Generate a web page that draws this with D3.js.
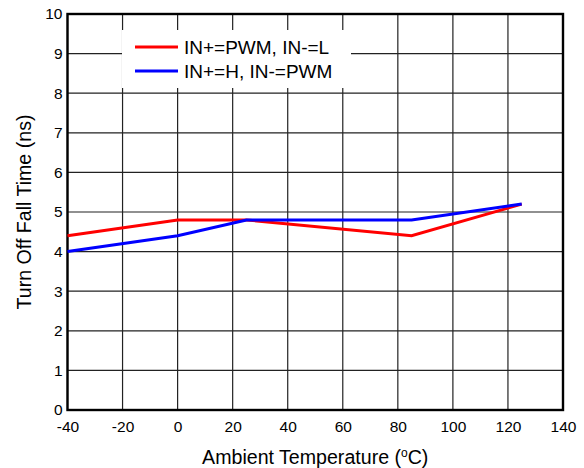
<!DOCTYPE html>
<html><head><meta charset="utf-8">
<script src="https://cdn.jsdelivr.net/npm/d3@7"></script>
<style>body{margin:0;background:#fff}svg{display:block;font-family:"Liberation Sans",Arial,sans-serif}</style>
</head><body><svg id="c" width="584" height="468"></svg>
<script>
const temps1 = [-40, 0, 25, 85, 125];
const redVals = [4.4, 4.8, 4.8, 4.4, 5.2];
const temps2 = [-40, 0, 25, 85, 125];
const blueVals = [4.0, 4.4, 4.8, 4.8, 5.2];
const xTicks = [-40, -20, 0, 20, 40, 60, 80, 100, 120, 140];
const yTicks = [0, 1, 2, 3, 4, 5, 6, 7, 8, 9, 10];
const seriesNames = ["IN+=PWM, IN-=L", "IN+=H, IN-=PWM"];
const seriesColors = ["#ff0000", "#0000ff"];

const svg = d3.select("#c");
const L = 67.5, R = 563, T = 14, B = 410;
const x = d3.scaleLinear().domain([-40, 140]).range([L, R]);
const y = d3.scaleLinear().domain([0, 10]).range([B, T]);

// grid
const g = svg.append("g");
g.selectAll("line.v").data(xTicks).enter().append("line")
  .attr("x1", d => x(d)).attr("x2", d => x(d)).attr("y1", T).attr("y2", B)
  .attr("stroke", "#222").attr("stroke-width", 1.2);
g.selectAll("line.h").data(yTicks).enter().append("line")
  .attr("y1", d => y(d)).attr("y2", d => y(d)).attr("x1", L).attr("x2", R)
  .attr("stroke", "#222").attr("stroke-width", 1.2);

// axes tick labels
const xAxis = d3.axisBottom(x).tickValues(xTicks).tickSize(0).tickPadding(11).tickFormat(d => String(d));
const xa = svg.append("g").attr("transform", `translate(0,${B})`).call(xAxis);
xa.select(".domain").remove();
xa.selectAll("text").attr("font-size", 15.5).attr("fill", "#000").attr("font-family", "Liberation Sans, Arial, sans-serif");
const yAxis = d3.axisLeft(y).tickValues(yTicks).tickSize(0).tickPadding(5).tickFormat(d => String(d));
const ya = svg.append("g").attr("transform", `translate(${L},0)`).call(yAxis);
ya.select(".domain").remove();
ya.selectAll("text").attr("font-size", 15.5).attr("fill", "#000").attr("font-family", "Liberation Sans, Arial, sans-serif");

// legend background
const lg = svg.append("g");
lg.append("rect").attr("x", 122).attr("y", 30).attr("width", 229).attr("height", 58).attr("fill", "#fff");

// frame
svg.append("rect").attr("x", L).attr("y", T).attr("width", R - L).attr("height", B - T)
  .attr("fill", "none").attr("stroke", "#000").attr("stroke-width", 2.4);

// lines
const line = d3.line().x(d => x(d[0])).y(d => y(d[1]));
const data = [d3.zip(temps1, redVals), d3.zip(temps2, blueVals)];
data.forEach((d, i) => {
  svg.append("path").datum(d).attr("d", line).attr("fill", "none")
    .attr("stroke", seriesColors[i]).attr("stroke-width", 3).attr("stroke-linejoin", "miter");
});

// legend entries
seriesNames.forEach((n, i) => {
  const yy = 47 + i * 24;
  lg.append("line").attr("x1", 135).attr("x2", 178).attr("y1", yy).attr("y2", yy)
    .attr("stroke", seriesColors[i]).attr("stroke-width", 3);
  lg.append("text").attr("x", 184).attr("y", yy + 7).attr("font-size", 19).text(n);
});

// axis titles
const xt = svg.append("text").attr("x", (L + R) / 2).attr("y", 464).attr("text-anchor", "middle").attr("font-size", 19.6);
xt.append("tspan").text("Ambient Temperature (");
xt.append("tspan").attr("font-size", 12).attr("dy", -7).text("o");
xt.append("tspan").attr("dy", 7).text("C)");
svg.append("text").attr("transform", `translate(31,${(T + B) / 2}) rotate(-90)`)
  .attr("text-anchor", "middle").attr("font-size", 19.6).text("Turn Off Fall Time (ns)");
</script></body></html>
